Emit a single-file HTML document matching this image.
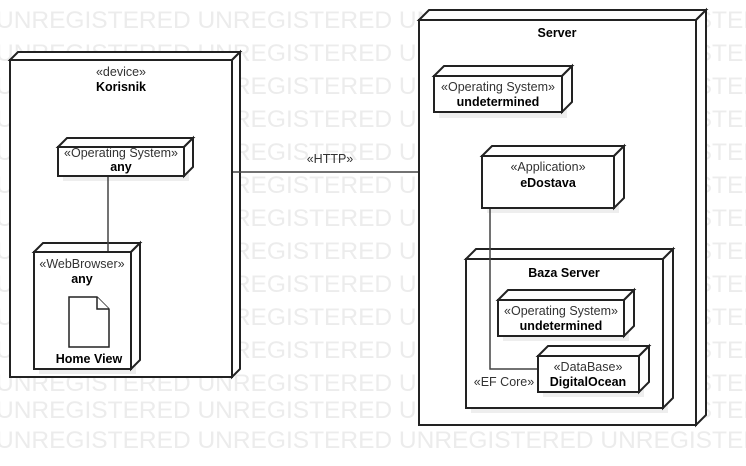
<!DOCTYPE html>
<html><head><meta charset="utf-8"><style>
html,body{margin:0;padding:0;background:#fff;}
svg{display:block;font-family:"Liberation Sans",Arial,sans-serif;}
</style></head><body>
<svg width="746" height="466" viewBox="0 0 746 466" xmlns="http://www.w3.org/2000/svg">
<g font-size="24.5" fill="#ececec" font-family="Liberation Sans, sans-serif">
<text x="-4" y="28">UNREGISTERED UNREGISTERED UNREGISTERED UNREGISTERED</text>
<text x="-4" y="61">UNREGISTERED UNREGISTERED UNREGISTERED UNREGISTERED</text>
<text x="-4" y="94">UNREGISTERED UNREGISTERED UNREGISTERED UNREGISTERED</text>
<text x="-4" y="127">UNREGISTERED UNREGISTERED UNREGISTERED UNREGISTERED</text>
<text x="-4" y="160">UNREGISTERED UNREGISTERED UNREGISTERED UNREGISTERED</text>
<text x="-4" y="193">UNREGISTERED UNREGISTERED UNREGISTERED UNREGISTERED</text>
<text x="-4" y="226">UNREGISTERED UNREGISTERED UNREGISTERED UNREGISTERED</text>
<text x="-4" y="259">UNREGISTERED UNREGISTERED UNREGISTERED UNREGISTERED</text>
<text x="-4" y="292">UNREGISTERED UNREGISTERED UNREGISTERED UNREGISTERED</text>
<text x="-4" y="325">UNREGISTERED UNREGISTERED UNREGISTERED UNREGISTERED</text>
<text x="-4" y="358">UNREGISTERED UNREGISTERED UNREGISTERED UNREGISTERED</text>
<text x="-4" y="391">UNREGISTERED UNREGISTERED UNREGISTERED UNREGISTERED</text>
<text x="-4" y="418">UNREGISTERED UNREGISTERED UNREGISTERED UNREGISTERED</text>
<text x="-4" y="448">UNREGISTERED UNREGISTERED UNREGISTERED UNREGISTERED</text>
</g>
<g stroke="#222" stroke-width="2" fill="#fff">
<polygon points="10,60 18,52 240,52 232,60"/><polygon points="232,60 240,52 240,369 232,377"/>
<rect x="10" y="60" width="222" height="317"/>
<polygon points="419,20 429,10 706,10 696,20"/><polygon points="696,20 706,10 706,415 696,425"/>
<rect x="419" y="20" width="277" height="405"/>
</g>
<g fill="#eeeeee">
<rect x="63" y="152" width="126" height="29"/>
<rect x="39" y="257" width="97" height="117"/>
<rect x="439" y="82" width="128" height="36"/>
<rect x="487" y="161" width="132" height="52"/>
<rect x="471" y="264" width="197" height="149"/>
</g>
<g stroke="#222" stroke-width="2" fill="#fff">
<polygon points="58,147 67,138 193,138 184,147"/><polygon points="184,147 193,138 193,167 184,176"/>
<rect x="58" y="147" width="126" height="29"/>
<polygon points="34,252 43,243 140,243 131,252"/><polygon points="131,252 140,243 140,360 131,369"/>
<rect x="34" y="252" width="97" height="117"/>
<polygon points="434,76 444,66 572,66 562,76"/><polygon points="562,76 572,66 572,102 562,112"/>
<rect x="434" y="76" width="128" height="36"/>
<polygon points="482,156 492,146 624,146 614,156"/><polygon points="614,156 624,146 624,198 614,208"/>
<rect x="482" y="156" width="132" height="52"/>
<polygon points="466,259 476,249 673,249 663,259"/><polygon points="663,259 673,249 673,398 663,408"/>
<rect x="466" y="259" width="197" height="149"/>
</g>
<rect x="503" y="305" width="126" height="36" fill="#eee"/>
<rect x="543" y="361" width="101" height="36" fill="#eee"/>
<g stroke="#222" stroke-width="2" fill="#fff">
<polygon points="498,300 508,290 634,290 624,300"/><polygon points="624,300 634,290 634,326 624,336"/>
<rect x="498" y="300" width="126" height="36"/>
</g>
<g stroke="#444" stroke-width="1.5" fill="none">
<line x1="108" y1="177" x2="108" y2="251"/>
<line x1="233" y1="172" x2="418" y2="172"/>
<polyline points="490,209 490,369 538,369"/>
</g>
<g stroke="#222" stroke-width="2" fill="#fff">
<polygon points="538,356 548,346 649,346 639,356"/><polygon points="639,356 649,346 649,382 639,392"/>
<rect x="538" y="356" width="101" height="36"/>
<path d="M69,297 H97 L109,309 V347 H69 Z" stroke-width="1.5"/>
<path d="M97,297 V309 H109" stroke-width="1.5"/>
</g>
<g fill="#000" font-size="12.5" text-anchor="middle">
<text x="121" y="76" fill="#333">«device»</text>
<text x="121" y="91" font-weight="bold">Korisnik</text>
<text x="121" y="157" fill="#333">«Operating System»</text>
<text x="121" y="171" font-weight="bold">any</text>
<text x="82" y="268" fill="#333">«WebBrowser»</text>
<text x="82" y="283" font-weight="bold">any</text>
<text x="89" y="363" font-weight="bold">Home View</text>
<text x="330" y="163" fill="#333">«HTTP»</text>
<text x="557" y="37" font-weight="bold">Server</text>
<text x="498" y="91" fill="#333">«Operating System»</text>
<text x="498" y="106" font-weight="bold">undetermined</text>
<text x="548" y="171" fill="#333">«Application»</text>
<text x="548" y="187" font-weight="bold">eDostava</text>
<text x="564" y="277" font-weight="bold">Baza Server</text>
<text x="561" y="315" fill="#333">«Operating System»</text>
<text x="561" y="330" font-weight="bold">undetermined</text>
<text x="588" y="371" fill="#333">«DataBase»</text>
<text x="588" y="386" font-weight="bold">DigitalOcean</text>
<text x="504" y="386" fill="#333">«EF Core»</text>
</g>
</svg>
</body></html>
